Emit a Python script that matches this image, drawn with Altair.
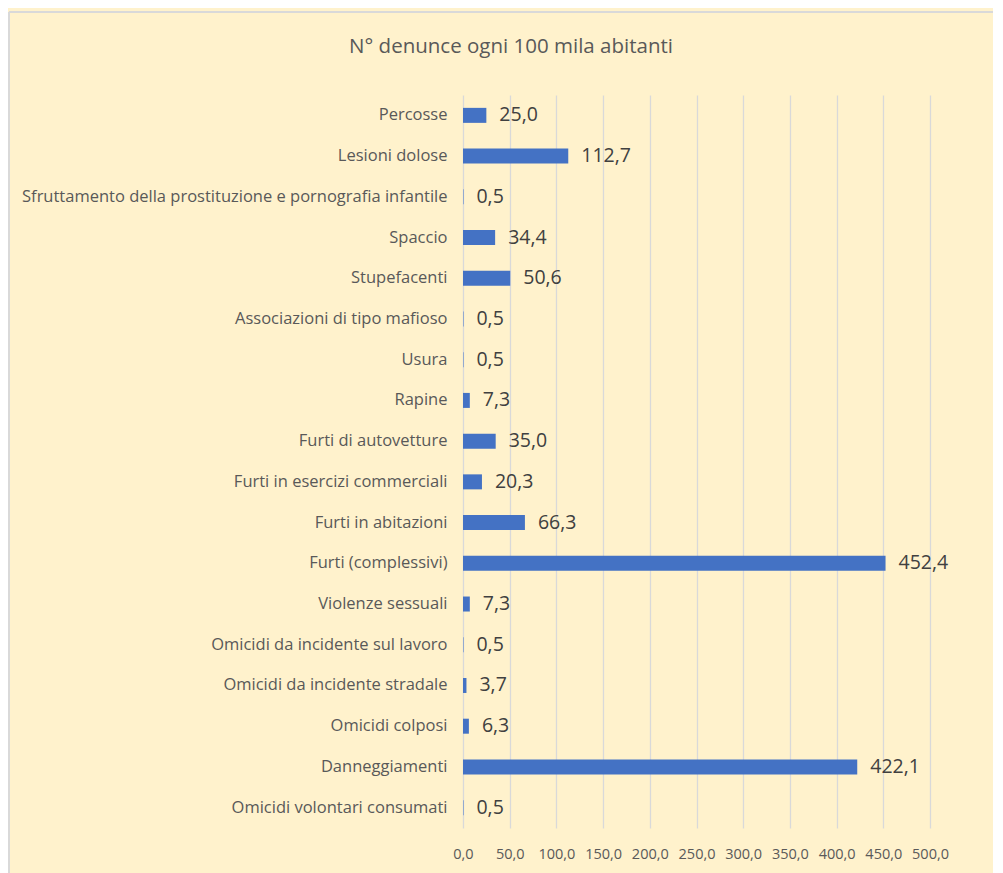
import altair as alt
import pandas as pd

categories = [
    "Percosse",
    "Lesioni dolose",
    "Sfruttamento della prostituzione e pornografia infantile",
    "Spaccio",
    "Stupefacenti",
    "Associazioni di tipo mafioso",
    "Usura",
    "Rapine",
    "Furti di autovetture",
    "Furti in esercizi commerciali",
    "Furti in abitazioni",
    "Furti (complessivi)",
    "Violenze sessuali",
    "Omicidi da incidente sul lavoro",
    "Omicidi da incidente stradale",
    "Omicidi colposi",
    "Danneggiamenti",
    "Omicidi volontari consumati",
]
values = [25.0, 112.7, 0.5, 34.4, 50.6, 0.5, 0.5, 7.3, 35.0, 20.3, 66.3,
          452.4, 7.3, 0.5, 3.7, 6.3, 422.1, 0.5]
x_ticks = [0, 50, 100, 150, 200, 250, 300, 350, 400, 450, 500]
title_text = "N° denunce ogni 100 mila abitanti"

df = pd.DataFrame({"cat": categories, "v": values})

FONT = "Open Sans"
W, H = 467, 733
PL, PT, PR, PB = 455, 87, 63, 45

x_enc = alt.X(
    "v:Q",
    scale=alt.Scale(domain=[0, 500], nice=False),
    axis=alt.Axis(
        values=x_ticks,
        labelExpr="replace(format(datum.value, '.1f'), '.', ',')",
        grid=True, gridColor="#D9D9D9", gridWidth=1.3,
        domain=False, ticks=False, labelPadding=19, labelOverlap=False,
        labelFlush=False, labelBound=False,
        labelColor="#595959", labelFontSize=14.5, labelFont=FONT, title=None,
    ),
)
y_enc = alt.Y(
    "cat:N",
    sort=categories,
    scale=alt.Scale(paddingInner=0.0, paddingOuter=0.0),
    axis=alt.Axis(
        domain=False, ticks=False, grid=False, labelPadding=16,
        labelColor="#595959", labelFontSize=16.5, labelFont=FONT, title=None,
        labelLimit=600,
    ),
)

base = alt.Chart(df).encode(y=y_enc)

bars = base.mark_bar(color="#4472C4", size=15).encode(x=x_enc)

labels = base.transform_calculate(
    lab="replace(format(datum.v, '.1f'), '.', ',')"
).mark_text(
    align="left", baseline="middle", dx=13, fontSize=19.5, font=FONT,
    color="#404040",
).encode(x=alt.X("v:Q"), text="lab:N")

title = alt.Chart(df.head(1)).mark_text(
    align="center", baseline="middle", fontSize=20.5, font=FONT,
    color="#595959",
).encode(x=alt.value(48), y=alt.value(-48), text=alt.value(title_text))

border = alt.Chart(df.head(1)).mark_rule(color="#D9D9D9", strokeWidth=2).encode(
    x=alt.value(-454), y=alt.value(-83), y2=alt.value(H + PB + 5)
)
border_top = alt.Chart(df.head(1)).mark_rule(color="#D9D9D9", strokeWidth=2).encode(
    x=alt.value(-454), x2=alt.value(W + PR + 5), y=alt.value(-83)
)

chart = (
    alt.layer(bars, labels, title, border, border_top)
    .properties(
        width=W, height=H,
        autosize=alt.AutoSizeParams(type="none"),
        padding={"left": PL, "top": PT, "right": PR, "bottom": PB},
        background="#FFF2CC",
    )
    .configure_view(stroke=None)
)

chart.save("out.html", embed_options={"renderer": "svg", "actions": False})
